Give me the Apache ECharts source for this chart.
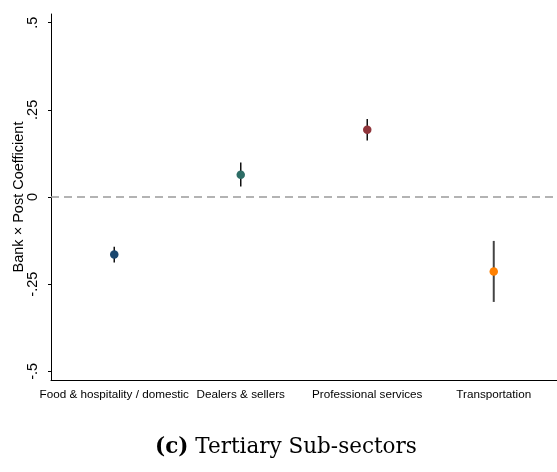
<!DOCTYPE html>
<html>
<head>
<meta charset="utf-8">
<script src="https://cdn.jsdelivr.net/npm/echarts@6/dist/echarts.min.js"></script>
<style>
  html, body { margin: 0; padding: 0; background: #fff; }
  #main { width: 557px; height: 472px; }
</style>
</head>
<body>
<div id="main"></div>
<script>
  const categories = ['Food & hospitality / domestic', 'Dealers & sellers', 'Professional services', 'Transportation'];
  const coef = [-0.165, 0.064, 0.193, -0.214];
  const ciLow = [-0.188, 0.030, 0.162, -0.301];
  const ciHigh = [-0.143, 0.099, 0.224, -0.126];
  const yTicks = [-0.5, -0.25, 0, 0.25, 0.5];
  const colors = ['#1a476f', '#2d6d66', '#90353b', '#ff8000'];
  const ciColors = ['#111', '#111', '#111', '#444'];

  const tickLabel = v => {
    if (v === 0) return '0';
    return String(v).replace('0.', '.');
  };

  var myChart = echarts.init(document.getElementById('main'));
  var option = {
    animation: false,
    grid: { left: 51, right: 0, top: 14, bottom: 92, outerBoundsMode: 'none', containLabel: false },
    title: {
      text: '{b|(c)} Tertiary Sub-sectors',
      left: 150,
      top: 431,
      textStyle: {
        fontFamily: 'DejaVu Serif',
        fontSize: 21.5,
        fontWeight: 'normal',
        color: '#000',
        rich: {
          b: { fontFamily: 'DejaVu Serif', fontSize: 21.5, fontWeight: 'bold', color: '#000' }
        }
      }
    },
    xAxis: {
      type: 'category',
      data: categories,
      boundaryGap: true,
      axisLine: { onZero: false, lineStyle: { color: '#000', width: 1 } },
      axisTick: { alignWithLabel: true, length: 3, lineStyle: { color: '#000' } },
      axisLabel: { color: '#000', fontFamily: 'Liberation Sans', fontSize: 11.7, margin: 9, interval: 0 },
      splitLine: { show: false }
    },
    yAxis: {
      type: 'value',
      min: -0.525,
      max: 0.525,
      splitNumber: 4,
      name: 'Bank × Post Coefficient',
      nameLocation: 'middle',
      nameGap: 25,
      nameMoveOverlap: false,
      nameTextStyle: { color: '#000', fontFamily: 'Liberation Sans', fontSize: 14.5 },
      axisLine: { show: true, lineStyle: { color: '#000', width: 1 } },
      axisTick: { show: true, length: 3, lineStyle: { color: '#000' }, customValues: yTicks },
      axisLabel: {
        color: '#000', fontFamily: 'Liberation Sans', fontSize: 14.5, rotate: 90, margin: 11,
        customValues: yTicks,
        formatter: tickLabel
      },
      splitLine: { show: false }
    },
    series: [
      {
        type: 'custom',
        z: 2,
        data: categories.map((c, i) => [i, ciLow[i], ciHigh[i]]),
        renderItem(params, api) {
          const i = api.value(0);
          const a = api.coord([i, api.value(1)]);
          const b = api.coord([i, api.value(2)]);
          return {
            type: 'line',
            shape: { x1: a[0], y1: a[1], x2: b[0], y2: b[1] },
            style: { stroke: ciColors[params.dataIndex], lineWidth: params.dataIndex === 3 ? 2 : 1.5 }
          };
        },
        markLine: {
          silent: true,
          symbol: 'none',
          label: { show: false },
          lineStyle: { color: '#9a9a9a', type: [8, 5], width: 1.5, opacity: 1 },
          data: [{ yAxis: 0 }]
        }
      },
      {
        type: 'scatter',
        z: 3,
        symbol: 'circle',
        symbolSize: 8.5,
        itemStyle: { opacity: 1 },
        data: coef.map((v, i) => ({ value: [i, v], itemStyle: { color: colors[i], opacity: 1 } }))
      }
    ]
  };
  myChart.setOption(option);
</script>
</body>
</html>
